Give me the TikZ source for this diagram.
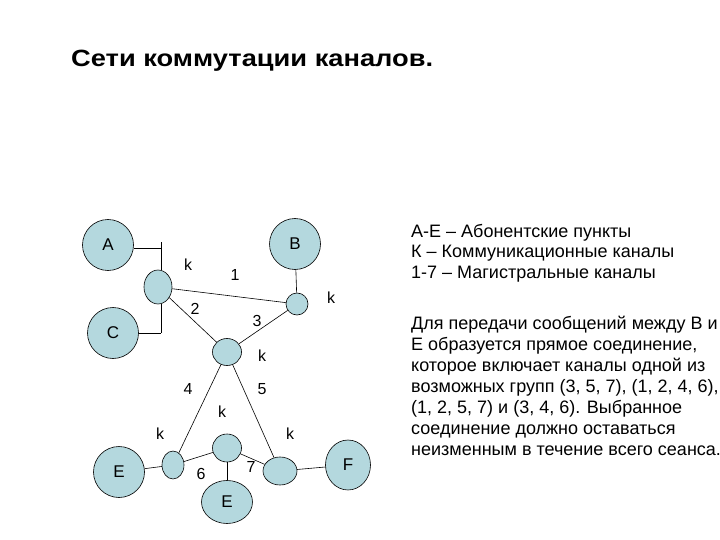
\documentclass[tikz,border=0pt]{standalone}
\usepackage{fontspec}
\setmainfont{Liberation Sans}
\usetikzlibrary{shapes.geometric}
\definecolor{nodefill}{RGB}{180,216,222}
\tikzset{
  term/.style={ellipse, draw=black, line width=0.6pt, fill=nodefill, inner sep=0pt, font=\fontsize{17}{17}\selectfont},
  sw/.style={ellipse, draw=black, line width=0.6pt, fill=nodefill, inner sep=0pt},
  lbl/.style={inner sep=0pt, font=\fontsize{16}{16}\selectfont},
  link/.style={line width=0.6pt},
  txt/.style={inner sep=0pt, anchor=base west, align=left}
}
\begin{document}
\begin{tikzpicture}[x=1pt,y=-1pt]
\useasboundingbox (0,0) rectangle (720,540);
% title
\node[inner sep=0pt, anchor=base west, font=\fontsize{23.5}{23.5}\selectfont\bfseries] (title) at (71,67) {\scalebox{1.16}[1]{Сети коммутации каналов.}};
% terminals
\node[term, minimum width=51pt, minimum height=51pt] (A) at (108,245) {A};
\node[term, minimum width=51pt, minimum height=51pt] (C) at (113,333) {C};
\node[term, minimum width=51pt, minimum height=51pt] (B) at (295,244) {B};
\node[term, minimum width=51pt, minimum height=51pt] (E1) at (119,472) {E};
\node[term, minimum width=51pt, minimum height=43pt] (E2) at (227,502) {E};
\node[term, minimum width=45pt, minimum height=50pt] (F) at (348,465) {F};
% switches
\node[sw, minimum width=28pt, minimum height=34pt] (k1) at (158,287) {};
\node[sw, minimum width=22pt, minimum height=22pt] (k2) at (297,304) {};
\node[sw, minimum width=29pt, minimum height=27pt] (k3) at (227,352) {};
\node[sw, minimum width=22pt, minimum height=28pt] (k4) at (173,465) {};
\node[sw, minimum width=29pt, minimum height=28pt] (k5) at (227,448) {};
\node[sw, minimum width=34pt, minimum height=28pt] (k6) at (280,471) {};
% connectors
\coordinate (aT) at (161,248);
\coordinate (aV) at (161,242);
\coordinate (cT) at (161,333);
\draw[link] (A.east |- aT) -- (aT);
\draw[link] (aV) -- (aV |- k1.north);
\draw[link] (C.east |- cT) -- (cT);
\draw[link] (cT) -- (cT |- k1.south);
\draw[link] (B) -- (k2);
\draw[link] (k1) -- (k2);
\draw[link] (k1) -- (k3);
\draw[link] (k3) -- (k2);
\draw[link] (k3) -- (k4);
\draw[link] (k3) -- (k6);
\draw[link] (E1) -- (k4);
\draw[link] (k4) -- (k5);
\draw[link] (k5) -- (E2);
\draw[link] (k5) -- (k6);
\draw[link] (k6) -- (F);
% labels
\node[lbl] (l1) at (235,275) {1};
\node[lbl] (l2) at (195,309) {2};
\node[lbl] (l3) at (257,321) {3};
\node[lbl] (l4) at (188,389) {4};
\node[lbl] (l5) at (262,389) {5};
\node[lbl] (l6) at (201,474) {6};
\node[lbl] (l7) at (251,467) {7};
\node[lbl] (ka) at (188,265) {k};
\node[lbl] (kb) at (331,298) {k};
\node[lbl] (kc) at (262,356) {k};
\node[lbl] (kd) at (222,412) {k};
\node[lbl] (ke) at (160,434) {k};
\node[lbl] (kf) at (290,434) {k};
% legend text
\node[txt, font=\fontsize{18}{20.5}\selectfont] (leg) at (411,278) {А-Е – Абонентские пункты\\К – Коммуникационные каналы\\1-7 – Магистральные каналы};
\node[txt, font=\fontsize{18}{21}\selectfont] (par) at (411,455) {Для передачи сообщений между В и\\Е образуется прямое соединение,\\которое включает каналы одной из\\возможных групп (3, 5, 7), (1, 2, 4, 6),\\(1, 2, 5, 7) и (3, 4, 6). Выбранное\\соединение должно оставаться\\неизменным в течение всего сеанса.};
\end{tikzpicture}
\end{document}
